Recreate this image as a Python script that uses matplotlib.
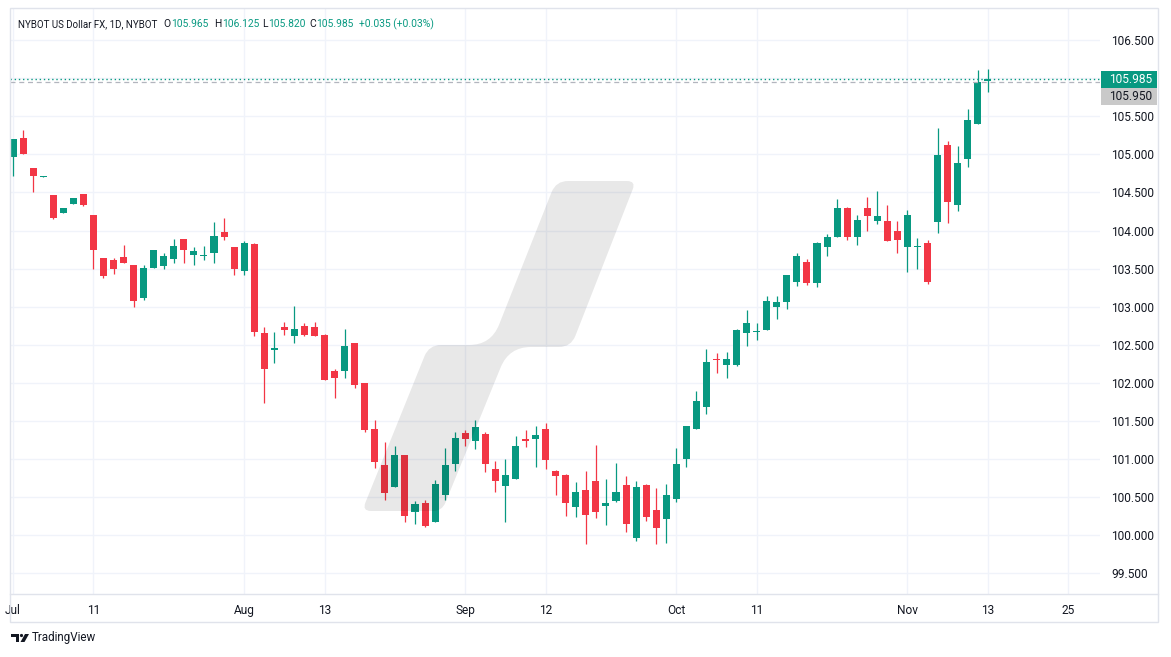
import numpy as np
import pandas as pd
import matplotlib
matplotlib.use('Agg')
import matplotlib.pyplot as plt
from matplotlib.patches import Polygon, Rectangle, Circle, PathPatch
from matplotlib.path import Path
from matplotlib.transforms import Affine2D, IdentityTransform

# daily OHLC, NYBOT US Dollar FX, 1 Jul - 13 Nov 2024 (weekdays)
dates = pd.bdate_range('2024-07-01', '2024-11-13')
opens = [104.97, 105.21, 104.82, 104.70, 104.47, 104.23, 104.35, 104.48, 104.20, 103.64,
         103.61, 103.65, 103.55, 103.12, 103.51, 103.54, 103.62, 103.89, 103.68, 103.67,
         103.71, 103.98, 103.78, 103.47, 103.82, 102.65, 102.43, 102.74, 102.61, 102.75,
         102.74, 102.63, 102.15, 102.15, 102.53, 102.00, 101.39, 100.92, 100.64, 101.05,
         100.30, 100.43, 100.18, 100.53, 100.93, 101.34, 101.24, 101.33, 100.87, 100.65,
         100.74, 101.27, 101.26, 101.40, 100.84, 100.79, 100.37, 100.59, 100.71, 100.39,
         100.45, 100.66, 99.97, 100.66, 100.33, 100.22, 100.48, 101.00, 101.40, 101.68,
         102.31, 102.23, 102.23, 102.65, 102.67, 102.69, 102.99, 103.06, 103.33, 103.59,
         103.31, 103.79, 103.92, 104.30, 103.91, 104.29, 104.12, 104.13, 104.00, 103.79,
         103.78, 103.83, 104.11, 105.12, 104.33, 104.94, 105.40, 105.965]
highs = [105.20, 105.32, 104.82, 104.71, 104.47, 104.30, 104.43, 104.48, 104.20, 103.64,
         103.64, 103.81, 103.55, 103.55, 103.75, 103.71, 103.89, 103.89, 103.78, 103.80,
         104.11, 104.16, 103.79, 103.86, 103.84, 102.73, 102.67, 102.80, 103.01, 102.79,
         102.80, 102.64, 102.18, 102.71, 102.53, 102.00, 101.51, 101.22, 101.17, 101.05,
         100.45, 100.47, 100.73, 101.14, 101.35, 101.38, 101.51, 101.35, 100.97, 101.00,
         101.30, 101.38, 101.44, 101.48, 100.86, 100.80, 100.70, 100.84, 101.18, 100.74,
         100.95, 100.78, 100.71, 100.68, 100.62, 100.67, 101.14, 101.44, 101.89, 102.45,
         102.39, 102.41, 102.71, 102.96, 102.78, 103.14, 103.14, 103.42, 103.70, 103.62,
         103.85, 103.96, 104.42, 104.31, 104.21, 104.44, 104.52, 104.33, 104.12, 104.27,
         103.90, 103.87, 105.34, 105.17, 105.11, 105.60, 106.10, 106.125]
lows = [104.72, 105.00, 104.51, 104.70, 104.15, 104.23, 104.35, 104.32, 103.50, 103.38,
        103.43, 103.58, 102.99, 103.09, 103.51, 103.50, 103.58, 103.58, 103.55, 103.61,
        103.57, 103.87, 103.42, 103.41, 102.61, 101.73, 102.26, 102.63, 102.53, 102.62,
        102.61, 102.04, 101.80, 102.06, 101.93, 101.35, 100.88, 100.46, 100.64, 100.17,
        100.15, 100.11, 100.18, 100.47, 100.85, 101.17, 101.13, 100.83, 100.57, 100.18,
        100.74, 101.16, 100.90, 100.87, 100.53, 100.25, 100.24, 99.89, 100.23, 100.14,
        100.44, 100.05, 99.93, 100.19, 99.88, 99.90, 100.44, 100.90, 101.39, 101.59,
        102.13, 102.06, 102.22, 102.48, 102.56, 102.69, 102.84, 102.97, 103.27, 103.28,
        103.26, 103.66, 103.92, 103.87, 103.81, 104.00, 104.09, 103.86, 103.71, 103.46,
        103.50, 103.30, 103.97, 104.10, 104.25, 104.84, 105.40, 105.82]
closes = [105.20, 105.01, 104.71, 104.71, 104.16, 104.30, 104.43, 104.33, 103.74, 103.40,
          103.50, 103.58, 103.07, 103.51, 103.75, 103.67, 103.80, 103.74, 103.73, 103.68,
          103.93, 103.92, 103.50, 103.83, 102.67, 102.18, 102.46, 102.69, 102.71, 102.63,
          102.62, 102.04, 102.06, 102.49, 101.97, 101.38, 100.96, 100.56, 101.06, 100.26,
          100.41, 100.12, 100.67, 100.92, 101.28, 101.27, 101.42, 100.94, 100.71, 100.79,
          101.17, 101.24, 101.31, 100.99, 100.78, 100.43, 100.57, 100.27, 100.31, 100.42,
          100.57, 100.15, 100.63, 100.24, 100.10, 100.53, 100.93, 101.43, 101.76, 102.28,
          102.30, 102.31, 102.70, 102.78, 102.68, 103.08, 103.06, 103.41, 103.66, 103.31,
          103.84, 103.92, 104.29, 103.91, 104.14, 104.19, 104.19, 103.86, 103.87, 104.21,
          103.79, 103.33, 104.99, 104.37, 104.89, 105.45, 105.95, 105.985]

tick_dates = ['2024-07-01', '2024-07-11', '2024-08-01', '2024-08-13', '2024-09-02', '2024-09-12',
              '2024-10-01', '2024-10-11', '2024-11-01', '2024-11-13', '2024-11-25']
tick_labels = ['Jul', '11', 'Aug', '13', 'Sep', '12', 'Oct', '11', 'Nov', '13', '25']
price_ticks = np.arange(99.5, 106.51, 0.5)

UP = '#089981'
DOWN = '#f23645'
TXT = '#131722'
GRID = '#f0f3fa'
FONT = 'Roboto'

W, H = 1171, 657
fig = plt.figure(figsize=(W / 100, H / 100), dpi=100)
fig.patch.set_facecolor('white')
# pixel coords measured from the top-left corner
px = Affine2D().scale(1 / W, -1 / H).translate(0, 1) + fig.transFigure

ax = fig.add_axes([10 / W, 1 - 594 / H, 1090 / W, 586 / H])
ax.set_facecolor('white')

o = np.array(opens)
h = np.array(highs)
l = np.array(lows)
c = np.array(closes)
x = np.arange(len(dates))
cols = np.where(c >= o, UP, DOWN)

ax.vlines(x, l, h, colors=cols, linewidth=0.9, zorder=3)
ax.bar(x, np.maximum(np.abs(c - o), 0.014), bottom=np.minimum(o, c), width=0.7,
       color=cols, linewidth=0, zorder=4)

# axes
tick_pos = [len(pd.bdate_range(dates[0], d)) - 1 for d in tick_dates]
ax.set_xticks(tick_pos)
ax.set_xticklabels(tick_labels)
ax.set_yticks(price_ticks)
# the label hidden behind the last-price box is left blank
ax.set_yticklabels([f'{v:.3f}' if abs(v - closes[-1]) > 0.2 else '' for v in price_ticks])
ax.yaxis.tick_right()
ax.tick_params(axis='both', length=0, labelsize=8.6, labelcolor=TXT)
ax.tick_params(axis='x', pad=7)
ax.tick_params(axis='y', pad=8)
for lab in ax.get_xticklabels() + ax.get_yticklabels():
    lab.set_fontfamily(FONT)
ax.grid(True, color=GRID, linewidth=1)
ax.set_axisbelow(True)
for s in ax.spines.values():
    s.set_visible(False)
ax.set_xlim(-0.3, 108.16)
ax.set_ylim(99.23, 106.92)

# last price / previous close lines
ax.axhline(closes[-2], color='#b2b5be', linestyle=(0, (4, 3)), linewidth=0.9, zorder=5)
ax.axhline(closes[-1], color=UP, linestyle=(0, (1, 2)), linewidth=1, zorder=6)


def rounded(verts, radii):
    """closed path through verts with each corner filleted by a quadratic curve"""
    V = np.array(verts, float)
    n = len(V)
    pts, codes = [], []
    for i in range(n):
        p, prv, nxt = V[i], V[i - 1], V[(i + 1) % n]
        d1 = (prv - p) / np.linalg.norm(prv - p)
        d2 = (nxt - p) / np.linalg.norm(nxt - p)
        pts.append(p + d1 * radii[i])
        codes.append(Path.MOVETO if i == 0 else Path.LINETO)
        pts += [p, p + d2 * radii[i]]
        codes += [Path.CURVE3, Path.CURVE3]
    pts.append(pts[0])
    codes.append(Path.CLOSEPOLY)
    return Path(pts, codes)


# watermark, drawn over the candles
wm_path = rounded([(362, 511), (429, 345), (491, 345), (556, 181), (636, 181),
                   (571, 347), (509, 347), (442, 511)],
                  [9, 12, 22, 12, 9, 12, 22, 9])
fig.patches.append(PathPatch(wm_path, transform=px, facecolor='black', edgecolor='none',
                             alpha=0.09))

# frame
fig.add_artist(Rectangle((10, 8), 1148, 614, transform=px, fill=False,
                         edgecolor='#e0e3eb', linewidth=1))
fig.add_artist(plt.Line2D([10, 1158], [594, 594], transform=px, color='#e0e3eb', linewidth=1))

# price labels on the axis
fig.canvas.draw()
y_last = ax.transData.transform((0, closes[-1]))[1]
fig.add_artist(Rectangle((1101, y_last - 8.5), 56, 17, transform=IdentityTransform(),
                         facecolor=UP, edgecolor='none', zorder=10))
fig.add_artist(Rectangle((1101, y_last - 25.5), 56, 17, transform=IdentityTransform(),
                         facecolor='#c9c9c9', edgecolor='none', zorder=10))
fig.text(1109, y_last, f'{closes[-1]:.3f}', transform=IdentityTransform(), color='white',
         fontsize=8.6, family=FONT, va='center', ha='left', zorder=11)
fig.text(1109, y_last - 17, f'{closes[-2]:.3f}', transform=IdentityTransform(), color=TXT,
         fontsize=8.6, family=FONT, va='center', ha='left', zorder=11)

# header legend
fig.text(18, 24, 'NYBOT US Dollar FX, 1D, NYBOT', transform=px, color=TXT,
         fontsize=7.0, family=FONT, va='center')
for xp, letter, val in [(171, 'O', opens[-1]), (222, 'H', highs[-1]),
                        (268, 'L', lows[-1]), (316, 'C', closes[-1])]:
    fig.text(xp - 0.5, 24, letter, transform=px, color=TXT, fontsize=7.4, family=FONT,
             va='center', ha='right')
    fig.text(xp, 24, f'{val:.3f}', transform=px, color=UP, fontsize=7.4, family=FONT,
             va='center')
chg = closes[-1] - closes[-2]
fig.text(359, 24, f'+{chg:.3f} (+{chg / closes[-2] * 100:.2f}%)', transform=px, color=UP,
         fontsize=7.4, family=FONT, va='center')

# TradingView logo
fig.add_artist(Polygon([(11, 634), (19, 634), (19, 642), (15.5, 642), (15.5, 637), (11, 637)],
                       transform=px, facecolor=TXT, edgecolor='none'))
fig.add_artist(Circle((21.5, 635.5), 1.6, transform=px, facecolor=TXT, edgecolor='none'))
fig.add_artist(Polygon([(25, 634), (29, 634), (24.5, 642), (20.5, 642)],
                       transform=px, facecolor=TXT, edgecolor='none'))
fig.text(32, 638, 'TradingView', transform=px, color=TXT, fontsize=8.4, family=FONT, va='center')

fig.savefig('out.png', dpi=100, facecolor='white')
